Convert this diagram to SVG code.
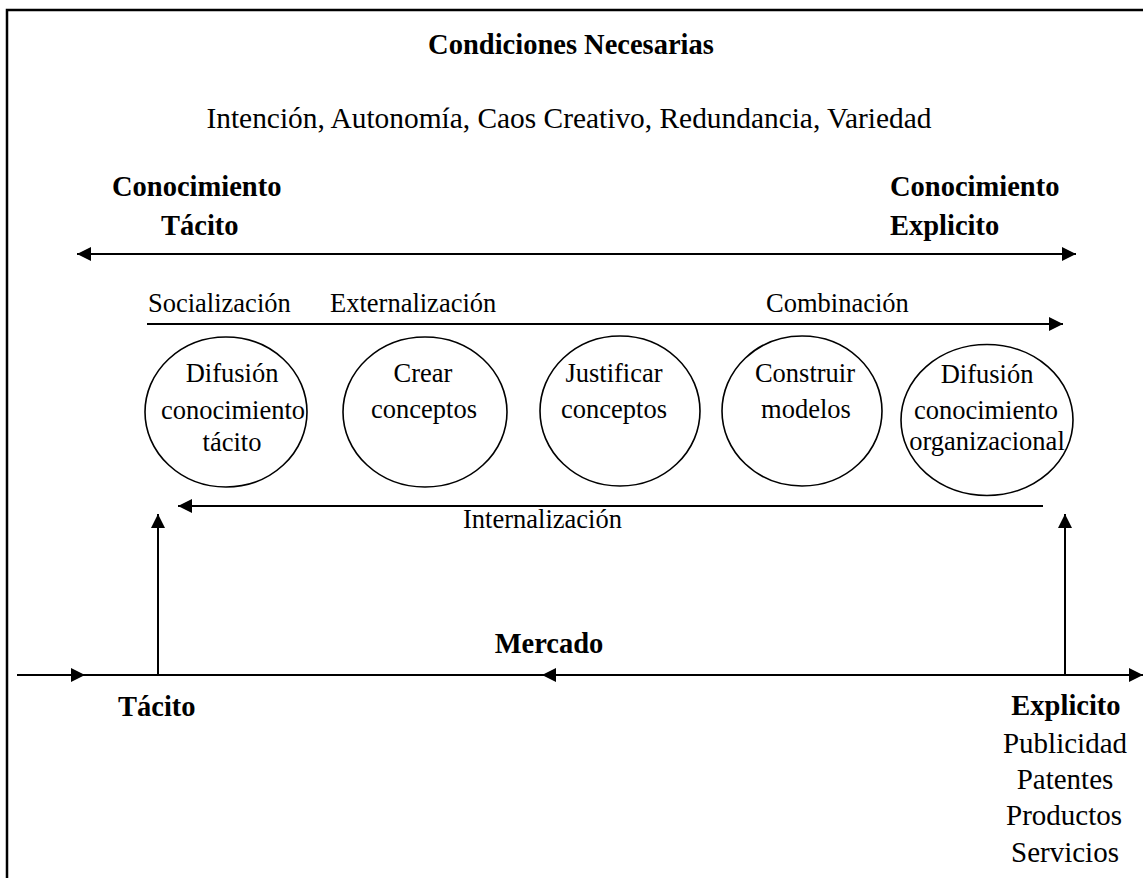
<svg xmlns="http://www.w3.org/2000/svg" width="1143" height="878" viewBox="0 0 1143 878">
  <defs>
    <marker id="head" viewBox="0 0 14 14" refX="14" refY="7" markerWidth="14" markerHeight="14" markerUnits="userSpaceOnUse" orient="auto-start-reverse">
      <path d="M0,0 L14,7 L0,14 Z" fill="#000"/>
    </marker>
  </defs>
  <style>
    text { font-family: "Liberation Serif", "Times New Roman", serif; fill: #000; }
    .t { font-size: 26.5px; }
    .l { font-size: 29px; }
    .b { font-size: 28.5px; font-weight: bold; }
    .c { text-anchor: middle; }
    .ln { stroke: #000; stroke-width: 2; fill: none; }
    .node ellipse { stroke: #000; stroke-width: 1.6; fill: #fff; }
    .node text { font-size: 26.5px; text-anchor: middle; }
  </style>
  <rect width="1143" height="878" fill="#fff"/>

  <!-- frame -->
  <path d="M1143,10 L7,10 L7,878" stroke="#000" stroke-width="2.5" fill="none"/>

  <!-- headings -->
  <text class="b c" x="571" y="54">Condiciones Necesarias</text>
  <text class="c" x="569" y="128" style="font-size:29.4px">Intención, Autonomía, Caos Creativo, Redundancia, Variedad</text>
  <text class="b" x="112" y="196">Conocimiento</text>
  <text class="b" x="161" y="235">Tácito</text>
  <text class="b" x="890" y="196">Conocimiento</text>
  <text class="b" x="890" y="235">Explicito</text>

  <!-- connectors -->
  <g id="connectors">
    <line class="ln" x1="77" y1="254" x2="1076" y2="254" marker-start="url(#head)" marker-end="url(#head)"/>
    <line class="ln" x1="147" y1="324" x2="1063" y2="324" marker-end="url(#head)"/>
    <line class="ln" x1="1043" y1="506" x2="178" y2="506" marker-end="url(#head)"/>
    <line class="ln" x1="158" y1="675" x2="158" y2="514" marker-end="url(#head)"/>
    <line class="ln" x1="1065" y1="675" x2="1065" y2="514" marker-end="url(#head)"/>
    <!-- market axis -->
    <line class="ln" x1="17" y1="675" x2="1143" y2="675" marker-end="url(#head)"/>
    <path d="M71,668 L85,675 L71,682 Z" fill="#000"/>
    <path d="M556,668 L542,675 L556,682 Z" fill="#000"/>
  </g>

  <!-- mode labels -->
  <text class="t" x="148" y="312">Socialización</text>
  <text class="t" x="330" y="312">Externalización</text>
  <text class="t" x="766" y="312">Combinación</text>
  <text class="t" x="463" y="528">Internalización</text>

  <!-- process nodes -->
  <g id="n1" class="node">
    <ellipse cx="226" cy="412" rx="81" ry="75"/>
    <text x="232" y="382">Difusión</text>
    <text x="233" y="419">conocimiento</text>
    <text x="232" y="451">tácito</text>
  </g>
  <g id="n2" class="node">
    <ellipse cx="425" cy="412" rx="82" ry="75"/>
    <text x="423" y="382">Crear</text>
    <text x="424" y="418">conceptos</text>
  </g>
  <g id="n3" class="node">
    <ellipse cx="620" cy="411" rx="80" ry="75"/>
    <text x="614" y="382">Justificar</text>
    <text x="614" y="418">conceptos</text>
  </g>
  <g id="n4" class="node">
    <ellipse cx="802" cy="411" rx="80" ry="75"/>
    <text x="805" y="382">Construir</text>
    <text x="806" y="418">modelos</text>
  </g>
  <g id="n5" class="node">
    <ellipse cx="987" cy="420" rx="86" ry="75.5"/>
    <text x="987" y="383">Difusión</text>
    <text x="986" y="419">conocimiento</text>
    <text x="987" y="450">organizacional</text>
  </g>

  <!-- market labels -->
  <text class="b c" x="549" y="653">Mercado</text>
  <text class="b" x="118" y="716">Tácito</text>
  <text class="b c" x="1066" y="715">Explicito</text>
  <text class="l c" x="1065" y="753">Publicidad</text>
  <text class="l c" x="1065" y="789">Patentes</text>
  <text class="l c" x="1064" y="825">Productos</text>
  <text class="l c" x="1065" y="862">Servicios</text>
</svg>
